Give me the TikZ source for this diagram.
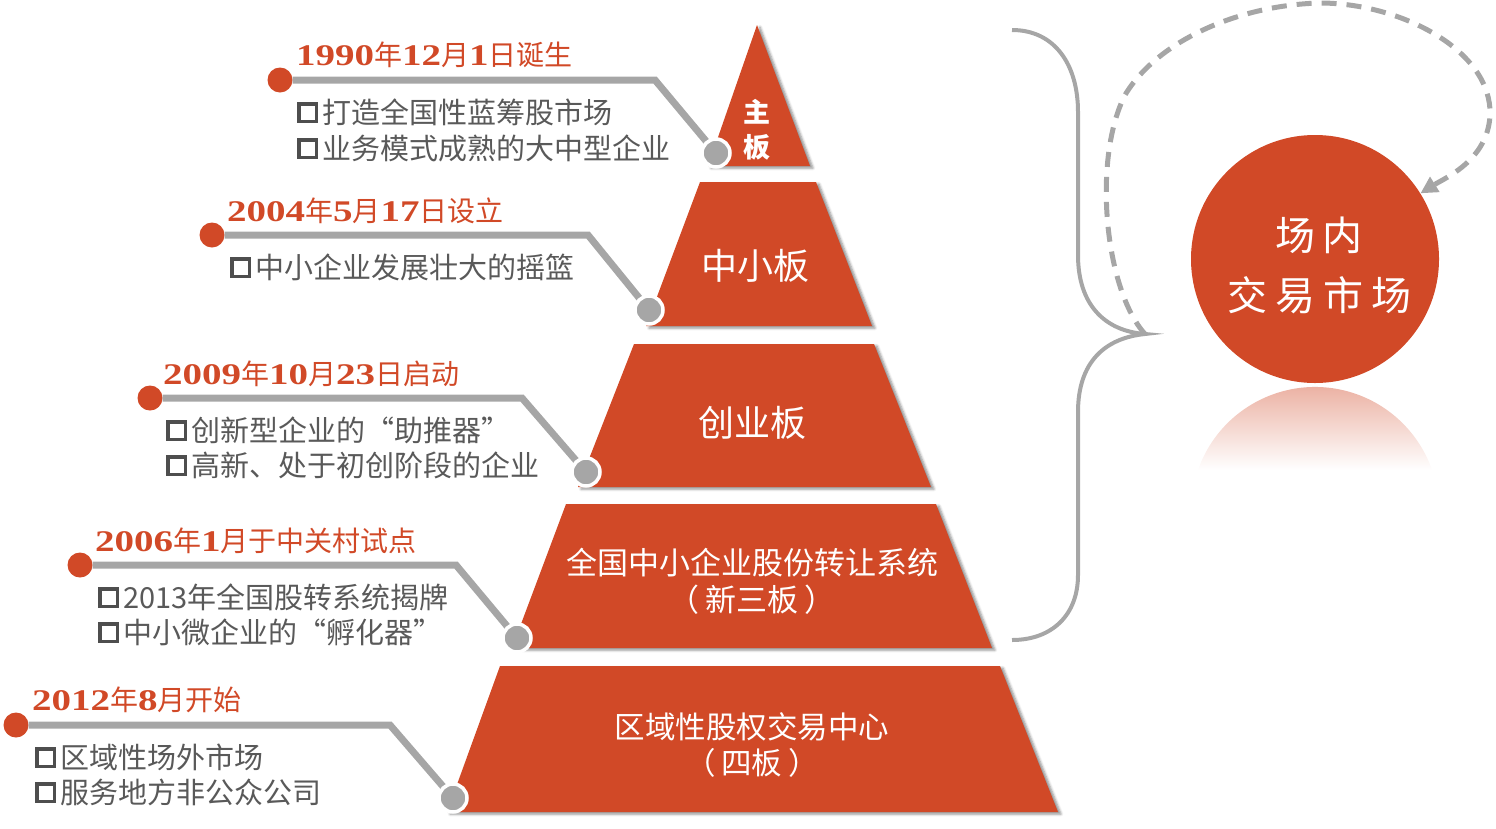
\documentclass[tikz,border=0pt]{standalone}
\usepackage{fontspec}
\setmainfont{Noto Sans CJK SC}
\newfontfamily\numfont{Liberation Serif}[FakeStretch=1.3]
\usetikzlibrary{shadows.blur,arrows.meta}
\definecolor{brick}{RGB}{209,73,39}
\definecolor{linegray}{RGB}{166,166,166}
\definecolor{txtgray}{RGB}{89,89,89}
\definecolor{boxgray}{RGB}{78,78,78}
% bold serif digits inside the date headings
\newcommand\yr[1]{{\numfont\bfseries\fontsize{30}{30}\selectfont #1}}
% hollow square bullet
\newcommand\bx{\raisebox{3.5pt}{\color{boxgray}\setlength\fboxrule{3.8pt}\setlength\fboxsep{0pt}\fbox{\rule{0pt}{13.5pt}\hspace{13.5pt}}}\hspace{4pt}}
\begin{document}
\begin{tikzpicture}[x=1pt,y=-1pt,
  tier/.style={fill=brick, blur shadow={shadow xshift=3pt, shadow yshift=-2pt, shadow blur radius=2.5pt, shadow opacity=45}},
  tiertext/.style={text=white, inner sep=0pt, align=center},
  datelabel/.style={anchor=west, inner sep=0pt, text=brick, font=\fontsize{28}{28}\selectfont},
  bullet/.style={anchor=west, inner sep=0pt, text=txtgray, font=\fontsize{29}{29}\selectfont},
  reddot/.style={circle, fill=brick, minimum size=25pt, inner sep=0pt},
  graydot/.style={circle, fill=linegray, draw=white, line width=3.5pt, minimum size=28pt, inner sep=0pt},
  conn/.style={draw=linegray, line width=7pt},
  brace/.style={draw=linegray, line width=4pt},
  loop/.style={draw=linegray, line width=5pt, dash pattern=on 15pt off 10pt, -{Triangle[length=17pt,width=17pt]}},
]
\useasboundingbox (0,0) rectangle (1496,828);

% ---------- pyramid tiers ----------
\path[tier] (757,25) -- (810,166) -- (708,166) -- cycle;
\path[tier] (700,182) -- (816,182) -- (872,326) -- (646,326) -- cycle;
\path[tier] (634,344) -- (874,344) -- (931,487) -- (578,487) -- cycle;
\path[tier] (566,504) -- (936,504) -- (992,648) -- (512,648) -- cycle;
\path[tier] (500,666) -- (1000,666) -- (1058,812) -- (447,812) -- cycle;

\node[tiertext, font=\bfseries\fontsize{27}{35}\selectfont] (t1) at (757,130) {主\\板};
\node[tiertext, font=\fontsize{36}{36}\selectfont] (t2) at (755,266) {中小板};
\node[tiertext, font=\fontsize{36}{36}\selectfont] (t3) at (752,423) {创业板};
\node[tiertext, font=\fontsize{31}{37}\selectfont] (t4) at (752,581) {全国中小企业股份转让系统\\（\hspace{6pt}新三板\hspace{6pt}）};
\node[tiertext, font=\fontsize{30.5}{36}\selectfont] (t5) at (752,745) {区域性股权交易中心\\（\hspace{6pt}四板\hspace{6pt}）};

% ---------- callout dots ----------
\node[reddot] (r1) at (280,80) {};
\node[reddot] (r2) at (212,235) {};
\node[reddot] (r3) at (150,398) {};
\node[reddot] (r4) at (80,565) {};
\node[reddot] (r5) at (16,725) {};

\coordinate (k1) at (655,80);
\coordinate (k2) at (588,235);
\coordinate (k3) at (522,398);
\coordinate (k4) at (456,565);
\coordinate (k5) at (390,725);

\coordinate (p1) at (716,153);
\coordinate (p2) at (649,310);
\coordinate (p3) at (586,472);
\coordinate (p4) at (517,638);
\coordinate (p5) at (453,798);

% connectors run under the gray end dots
\foreach \i in {1,...,5} {
  \draw[conn] (r\i) -- (k\i) -- (p\i);
}
\foreach \i in {1,...,5} {
  \node[graydot] (g\i) at (p\i) {};
}

% ---------- callout texts ----------
\node[datelabel] (d1) at (296,55) {\yr{1990}年\yr{12}月\yr{1}日诞生};
\node[bullet] (b11) at (297,112) {\bx 打造全国性蓝筹股市场};
\node[bullet] (b12) at (297,148) {\bx 业务模式成熟的大中型企业};

\node[datelabel] (d2) at (227,211) {\yr{2004}年\yr{5}月\yr{17}日设立};
\node[bullet] (b21) at (230,267) {\bx 中小企业发展壮大的摇篮};

\node[datelabel] (d3) at (163,374) {\yr{2009}年\yr{10}月\yr{23}日启动};
\node[bullet] (b31) at (166,430) {\bx 创新型企业的“助推器”};
\node[bullet] (b32) at (166,465) {\bx 高新、处于初创阶段的企业};

\node[datelabel] (d4) at (95,541) {\yr{2006}年\yr{1}月于中关村试点};
\node[bullet] (b41) at (98,597) {\bx 2013年全国股转系统揭牌};
\node[bullet] (b42) at (98,632) {\bx 中小微企业的“孵化器”};

\node[datelabel] (d5) at (32,700) {\yr{2012}年\yr{8}月开始};
\node[bullet] (b51) at (35,757) {\bx 区域性场外市场};
\node[bullet] (b52) at (35,792) {\bx 服务地方非公众公司};

% ---------- brace grouping the upper four tiers ----------
\coordinate (tip) at (1145,334);
\draw[brace] (1012,30) .. controls (1055,30) and (1078,65) .. (1078,112)
  -- (1078,255) .. controls (1078,305) and (1105,331) .. (tip)
  .. controls (1105,338) and (1078,362) .. (1078,412)
  -- (1078,575) .. controls (1078,615) and (1052,640) .. (1012,640);

% ---------- market circle and its reflection ----------
\shade[top color=brick!50!white, bottom color=white]
  (1198,470) arc[start angle=199.3, end angle=340.7, radius=124] -- cycle;
\node[circle, fill=brick, minimum size=248pt, inner sep=0pt] (mkt) at (1315,259) {};
\node[text=white, align=center, inner sep=0pt,
      font=\fontsize{40}{60}\selectfont\addfontfeature{LetterSpace=20}] (mktlabel) at (1319,265) {场内\\交易市场};

% dashed loop from the brace tip round to the circle
\draw[loop] (tip) .. controls (1105,290) and (1092,160) .. (1125,95)
  .. controls (1158,40) and (1240,5) .. (1320,3)
  .. controls (1400,3) and (1492,50) .. (1490,115)
  .. controls (1488,160) and (1445,178) .. (mkt);
\end{tikzpicture}
\end{document}
